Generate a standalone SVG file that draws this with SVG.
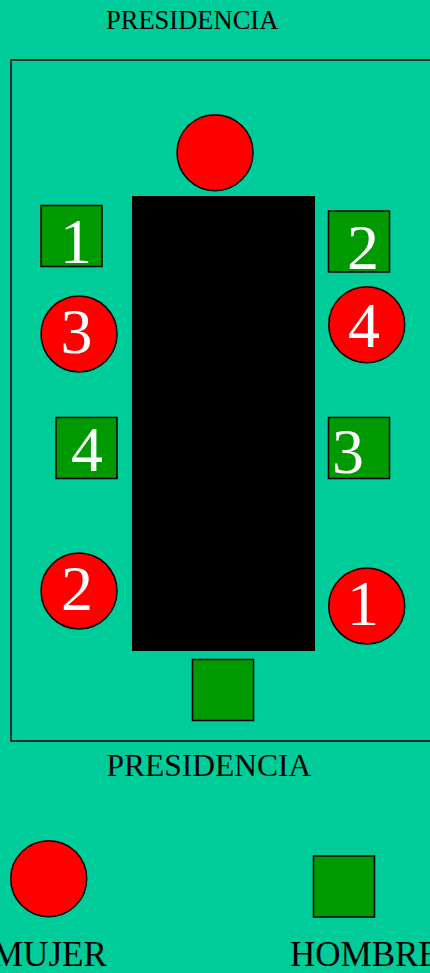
<svg xmlns="http://www.w3.org/2000/svg" width="430" height="973" viewBox="0 0 430 973">
<style>
.w{fill:#ff0000;stroke:#000;stroke-width:1.5}
.m{fill:#009900;stroke:#000;stroke-width:1.5}
.n{font-family:"Liberation Serif","Times New Roman",serif;font-size:64px;fill:#fff}
.t{font-family:"Liberation Serif","Times New Roman",serif;fill:#000}
</style>
<rect x="0" y="0" width="430" height="973" fill="#00cc99"/>
<text class="t" x="106" y="29" font-size="26.5">PRESIDENCIA</text>
<rect x="11" y="60" width="440" height="681" fill="none" stroke="#000" stroke-width="1.5"/>
<g id="table"><rect x="132" y="196" width="183" height="455" fill="#000"/></g>
<g id="pres-top"><circle class="w" cx="215" cy="152.7" r="38"/></g>
<g id="h1"><rect class="m" x="41" y="205.5" width="61" height="61"/><text class="n" x="60" y="262.7">1</text></g>
<g id="h2"><rect class="m" x="328.5" y="211" width="61" height="61"/><text class="n" x="347" y="268.7">2</text></g>
<g id="m3"><circle class="w" cx="79" cy="334" r="38"/><text class="n" x="60.5" y="353.3">3</text></g>
<g id="m4"><circle class="w" cx="366.7" cy="324.7" r="38"/><text class="n" x="348" y="346.7">4</text></g>
<g id="h4"><rect class="m" x="56" y="417.5" width="61" height="61"/><text class="n" x="71" y="471">4</text></g>
<g id="h3"><rect class="m" x="328.5" y="417.5" width="61" height="61"/><text class="n" x="332" y="473.3">3</text></g>
<g id="m2"><circle class="w" cx="79" cy="591" r="38"/><text class="n" x="61" y="610">2</text></g>
<g id="m1"><circle class="w" cx="366.7" cy="606" r="38"/><text class="n" x="347" y="625">1</text></g>
<g id="pres-bottom"><rect class="m" x="192.5" y="659.5" width="61" height="61"/></g>
<text class="t" x="106.5" y="776" font-size="31.5">PRESIDENCIA</text>
<g id="legend-mujer"><circle class="w" cx="48.7" cy="878.7" r="38"/><text class="t" x="-8" y="966" font-size="35">MUJER</text></g>
<g id="legend-hombre"><rect class="m" x="313.5" y="856" width="61" height="61"/><text class="t" x="290" y="966" font-size="35">HOMBRE</text></g>
<g id="connectors"></g>
</svg>
